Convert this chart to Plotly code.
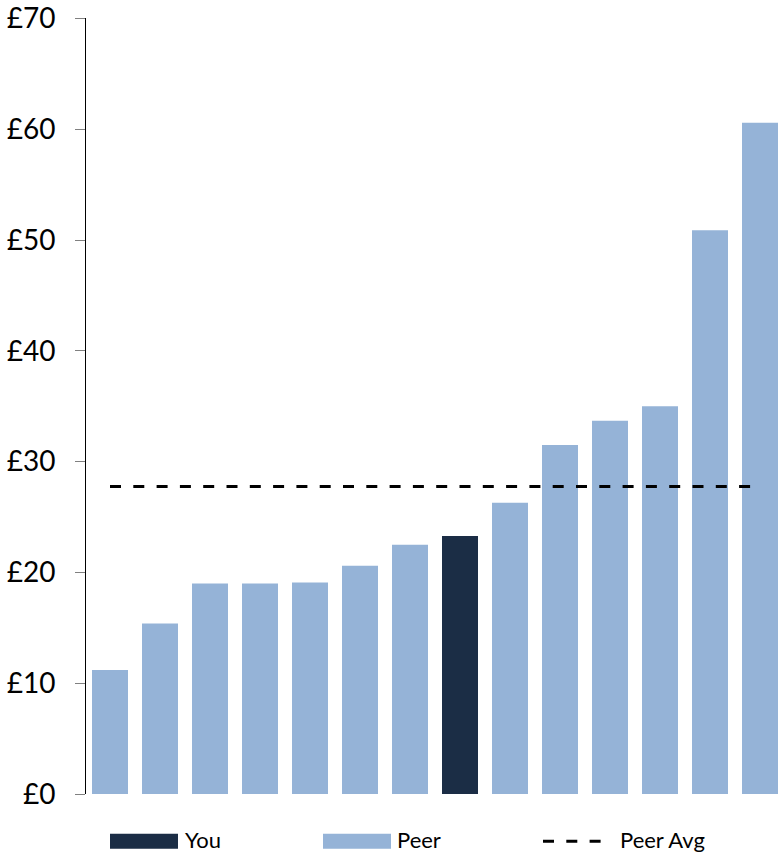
import plotly.graph_objects as go

categories = [f"P{i}" for i in range(1, 15)]
values = [11.2, 15.4, 19.0, 19.0, 19.1, 20.6, 22.5, 23.3, 26.3, 31.5, 33.7, 35.0, 50.9, 60.6]
is_you = [False] * 7 + [True] + [False] * 6
peer_avg = 27.75
y_ticks = [0, 10, 20, 30, 40, 50, 60, 70]
y_tick_labels = [f"£{v}" for v in y_ticks]

PEER_COLOR = "#95B3D7"
YOU_COLOR = "#1B2D45"
FONT = "Lato"

W, H = 779, 854
ML, MR, MT, MB = 86, 0, 15, 60

colors = [YOU_COLOR if y else PEER_COLOR for y in is_you]
xs = list(range(len(categories)))

fig = go.Figure()
fig.add_trace(go.Bar(x=xs, y=values, marker=dict(color=colors, line=dict(width=0)),
                     width=0.72, showlegend=False, hoverinfo="y"))
fig.add_trace(go.Scatter(x=[xs[0], xs[-1]], y=[peer_avg, peer_avg], mode="lines",
                         line=dict(color="black", width=3, dash="11px,12.3px"),
                         showlegend=False, hoverinfo="skip"))

pw = W - ML - MR
ph = H - MT - MB


def px_x(p):
    return (p - ML) / pw


def px_y(p):
    return (H - MB - p) / ph


shapes = []
annotations = []
LEG_FONT = dict(family=FONT, size=22, color="black")
TXT_Y = 839.5
# Legend: You
shapes.append(dict(type="rect", xref="paper", yref="paper",
                   x0=px_x(110), x1=px_x(178), y0=px_y(849), y1=px_y(834),
                   fillcolor=YOU_COLOR, line=dict(width=0)))
annotations.append(dict(text="You", xref="paper", yref="paper", x=px_x(183), y=px_y(TXT_Y),
                        xanchor="left", yanchor="middle", showarrow=False, font=LEG_FONT))
# Legend: Peer
shapes.append(dict(type="rect", xref="paper", yref="paper",
                   x0=px_x(323), x1=px_x(391), y0=px_y(849), y1=px_y(834),
                   fillcolor=PEER_COLOR, line=dict(width=0)))
annotations.append(dict(text="Peer", xref="paper", yref="paper", x=px_x(395), y=px_y(TXT_Y),
                        xanchor="left", yanchor="middle", showarrow=False, font=LEG_FONT))
# Legend: Peer Avg
shapes.append(dict(type="line", xref="paper", yref="paper",
                   x0=px_x(543), x1=px_x(602), y0=px_y(841.5), y1=px_y(841.5),
                   line=dict(color="black", width=3, dash="11px,12.3px")))
annotations.append(dict(text="Peer Avg", xref="paper", yref="paper", x=px_x(618), y=px_y(TXT_Y),
                        xanchor="left", yanchor="middle", showarrow=False, font=LEG_FONT))

fig.update_layout(
    width=W, height=H,
    margin=dict(l=ML, r=MR, t=MT, b=MB, pad=0),
    paper_bgcolor="white", plot_bgcolor="white",
    font=dict(family=FONT, color="black"),
    shapes=shapes, annotations=annotations,
    xaxis=dict(range=[-0.48, 13.38], showticklabels=False, showgrid=False, zeroline=False,
               showline=False, ticks="", fixedrange=True),
    yaxis=dict(range=[0, 70.05], tickvals=y_ticks, ticktext=y_tick_labels, showgrid=False,
               zeroline=False, showline=True, linecolor="black", linewidth=1,
               ticks="outside", ticklen=10, tickcolor="#808080", tickwidth=1,
               ticklabelstandoff=14, ticklabeloverflow="allow",
               tickfont=dict(family=FONT, size=28, color="black"),
               fixedrange=True),
)

fig.write_html("out.html")
